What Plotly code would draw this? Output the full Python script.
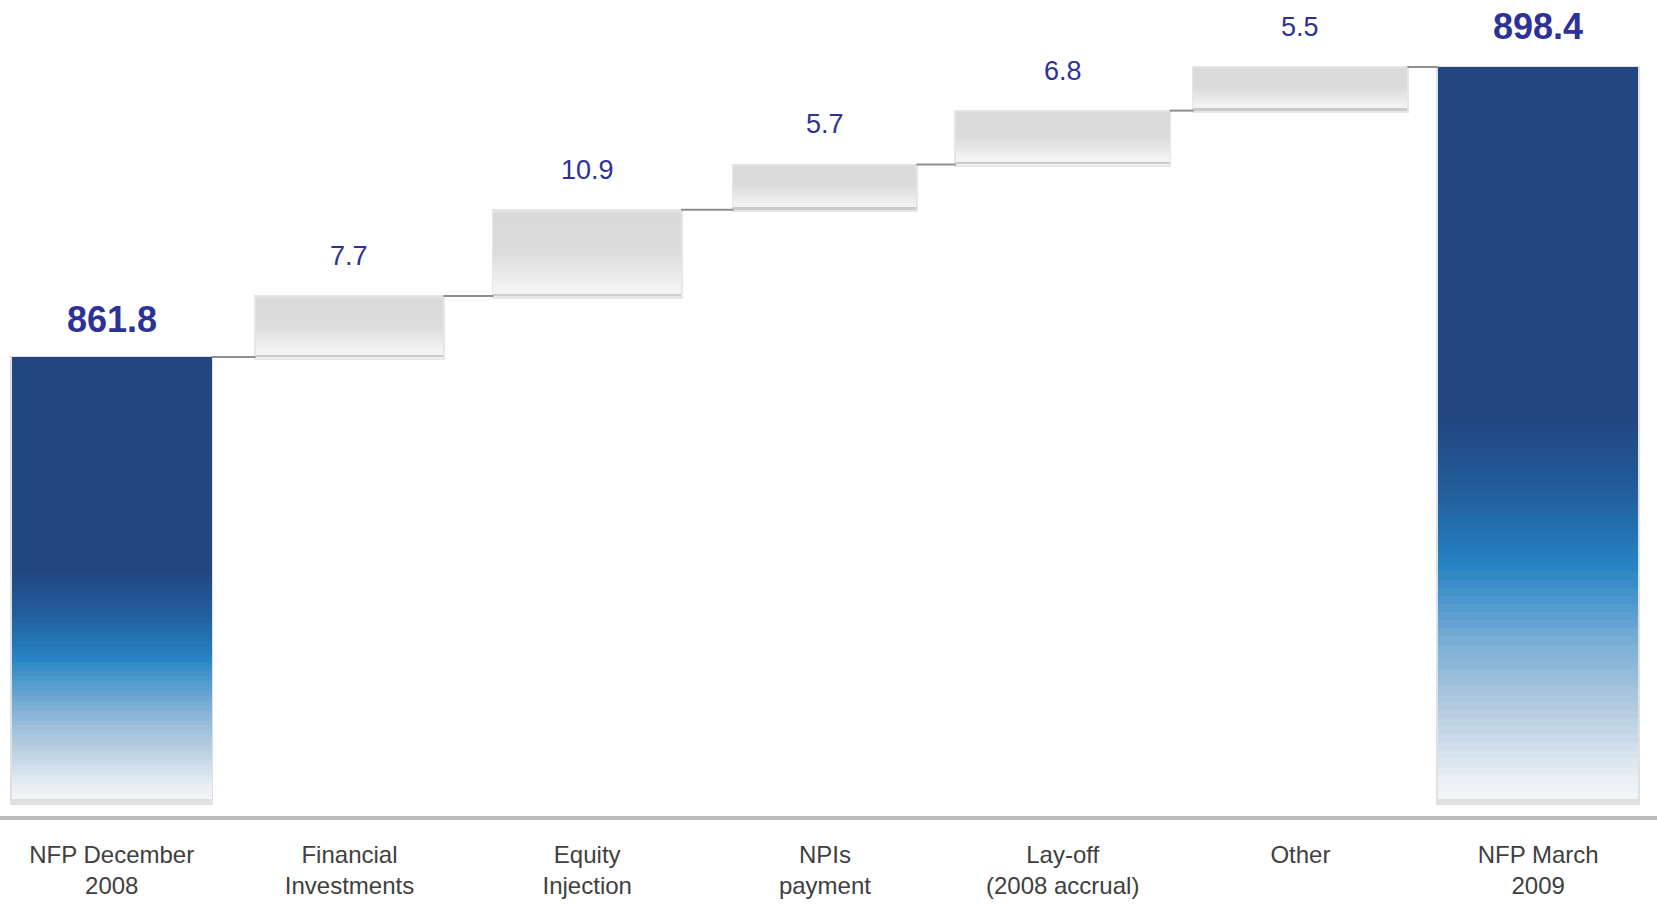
import plotly.graph_objects as go

# ---------------- data ----------------
categories = ["NFP December<br>2008", "Financial<br>Investments", "Equity<br>Injection",
              "NPIs<br>payment", "Lay-off<br>(2008 accrual)", "Other", "NFP March<br>2009"]
start_value = 861.8
deltas = [7.7, 10.9, 5.7, 6.8, 5.5]
end_value = 898.4
axis_floor = 806.0          # truncated value axis: visible bottom of the total bars

# ---------------- styles ----------------
total_width = 0.84
step_widths = [0.79, 0.79, 0.77, 0.9, 0.9]
label_color = "#2E3296"
font_family = "Liberation Sans, Arial, sans-serif"

def hex2rgb(h):
    h = h.lstrip("#")
    return tuple(int(h[i:i + 2], 16) for i in (0, 2, 4))

def interp(stops, f):
    for (f0, c0), (f1, c1) in zip(stops, stops[1:]):
        if f0 <= f <= f1:
            t = 0 if f1 == f0 else (f - f0) / (f1 - f0)
            a, b = hex2rgb(c0), hex2rgb(c1)
            return "rgb(%d,%d,%d)" % tuple(round(a[i] + (b[i] - a[i]) * t) for i in range(3))
    return "rgb(%d,%d,%d)" % hex2rgb(stops[-1][1] if f > stops[-1][0] else stops[0][1])

blue_stops = [(0.0, "#F3F6F9"), (0.03, "#E8EEF4"), (0.12, "#B5CDE1"), (0.2, "#84B3D8"),
              (0.32, "#2683C4"), (0.42, "#225E9C"), (0.52, "#22467F"), (1.0, "#22467F")]
gray_stops = [(0.0, "#F5F5F5"), (0.12, "#F2F2F2"), (0.5, "#DCDCDC"), (0.95, "#DADADA"), (1.0, "#E4E4E4")]

# cumulative levels
levels = [start_value]
for d in deltas:
    levels.append(round(levels[-1] + d, 1))

fig = go.Figure()

def bar(x, base, y, width, color):
    fig.add_trace(go.Bar(x=x, base=base, y=y, width=width, marker=dict(color=color, line=dict(width=0)),
                         hoverinfo="skip", showlegend=False))

# ---- total bars (first and last) ----
tot_x = [0, len(categories) - 1]
tot_vals = [start_value, end_value]
tot_h = [v - axis_floor for v in tot_vals]
bar(tot_x, [axis_floor - 0.8] * 2, [h + 0.95 for h in tot_h], [total_width + 0.016] * 2, "#E0E0E0")
N = 90
for k in range(N):
    frac = 1 - k / N
    col = interp(blue_stops, frac - 0.5 / N)
    bar(tot_x, [axis_floor] * 2, [h * frac for h in tot_h], [total_width] * 2, col)

# ---- step boxes ----
st_x = list(range(1, len(deltas) + 1))
st_base = levels[:-1]
bar(st_x, [b - 0.35 for b in st_base], [d + 0.45 for d in deltas], [w + 0.014 for w in step_widths], "#E6E6E6")
M = 40
for k in range(M):
    frac = 1 - k / M
    col = interp(gray_stops, frac - 0.5 / M)
    bar(st_x, st_base, [d * frac for d in deltas], step_widths, col)
bar(st_x, st_base, [0.28] * len(deltas), step_widths, "#CACACA")

# ---- connectors ----
widths_all = [total_width] + step_widths + [total_width]
for i, lvl in enumerate(levels):
    x0 = i + widths_all[i] / 2
    x1 = i + 1 - widths_all[i + 1] / 2
    fig.add_trace(go.Scatter(x=[x0, x1], y=[lvl, lvl], mode="lines",
                             line=dict(color="#8E8E8E", width=2), hoverinfo="skip", showlegend=False))

# ---- value labels ----
fig.add_annotation(x=0, y=start_value, text=f"{start_value:.1f}", showarrow=False, yshift=38,
                   font=dict(size=36, color=label_color, family=font_family, weight="bold"))
fig.add_annotation(x=len(categories) - 1, y=end_value, text=f"{end_value:.1f}", showarrow=False, yshift=41,
                   font=dict(size=36, color=label_color, family=font_family, weight="bold"))
for i, d in enumerate(deltas):
    fig.add_annotation(x=i + 1, y=levels[i + 1], text=f"{d:.1f}", showarrow=False, yshift=40,
                       font=dict(size=27, color=label_color, family=font_family))

fig.update_layout(
    width=1657, height=904,
    margin=dict(l=0, r=0, t=0, b=88),
    paper_bgcolor="white", plot_bgcolor="white",
    barmode="overlay", bargap=0,
    showlegend=False,
    xaxis=dict(range=[-0.47, 6.5], tickvals=list(range(len(categories))), ticktext=categories,
               showline=True, linecolor="#BEBEBE", linewidth=4, showgrid=False, zeroline=False,
               ticks="", ticklabelstandoff=14,
               tickfont=dict(size=24, color="#404040", family=font_family)),
    yaxis=dict(range=[803.87, 906.86], visible=False, showgrid=False, zeroline=False),
)

fig.write_html("out.html")
